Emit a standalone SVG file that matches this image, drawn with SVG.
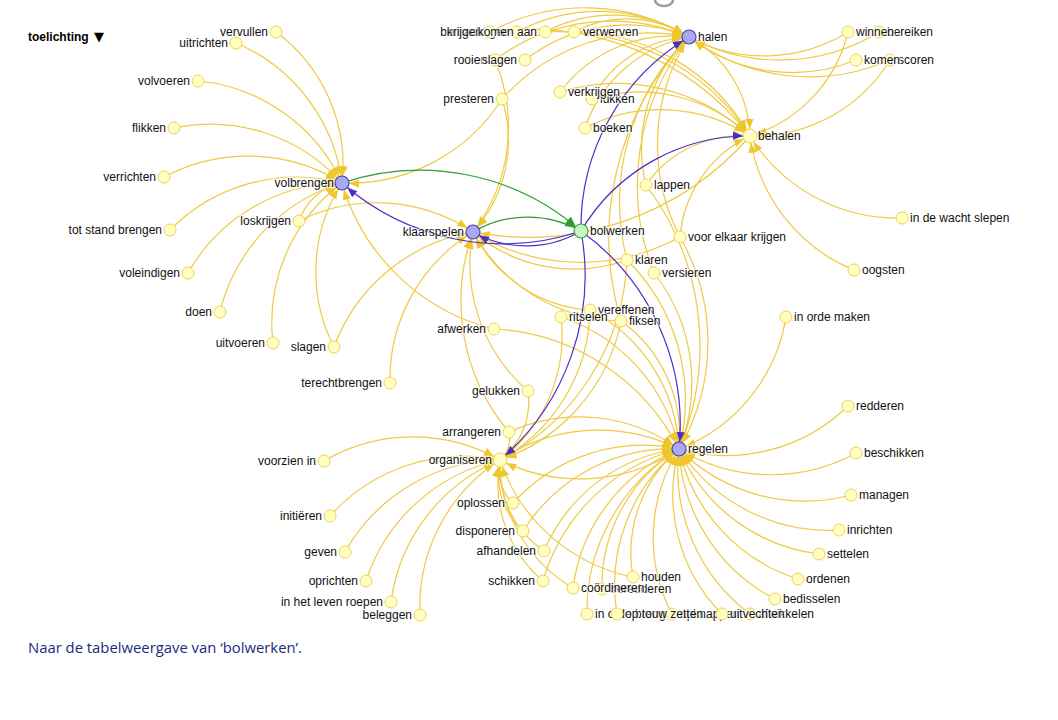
<svg xmlns="http://www.w3.org/2000/svg" width="1058" height="720" viewBox="0 0 1058 720">
<style>
.e{fill:none;stroke:#efca42;stroke-width:1.2}
.b{fill:none;stroke:#4b2dc9;stroke-width:1.2}
.g{fill:none;stroke:#2e9e2e;stroke-width:1.2}
.lf{fill:#ffffc2;stroke:#f0d250;stroke-width:1}
.hb{fill:#a8a8f6;stroke:#4646a8;stroke-width:1.2}
.gn{fill:#c6f5c6;stroke:#3ba03b;stroke-width:1.2}
.l{font-family:"Liberation Sans",Arial,sans-serif;font-size:12px;fill:#111;stroke:#fff;stroke-width:2.5;stroke-opacity:.65;paint-order:stroke}
.r{text-anchor:end}
</style>
<defs>
<marker id="ay" viewBox="0 -5 10 10" refX="17" refY="0" markerWidth="10" markerHeight="10" markerUnits="userSpaceOnUse" orient="auto"><path d="M0,-4L10,0L0,4Z" fill="#efc630"/></marker>
<marker id="ab" viewBox="0 -5 10 10" refX="17" refY="0" markerWidth="10" markerHeight="10" markerUnits="userSpaceOnUse" orient="auto"><path d="M0,-4L10,0L0,4Z" fill="#4b2dc9"/></marker>
<marker id="ag" viewBox="0 -5 10 10" refX="17" refY="0" markerWidth="10" markerHeight="10" markerUnits="userSpaceOnUse" orient="auto"><path d="M0,-4L10,0L0,4Z" fill="#2e9e2e"/></marker>
</defs>
<rect width="1058" height="720" fill="#fff"/>
<path d="M655,0 A9,6 0 0,0 673,0" fill="none" stroke="#9a9a9a" stroke-width="2.5"/>
<text x="28" y="41" font-family="Liberation Sans,Arial,sans-serif" font-size="12" font-weight="bold" fill="#000">toelichting</text>
<text x="94" y="41" font-family="DejaVu Sans,sans-serif" font-size="13" fill="#000">▼</text>
<g id="connectors">
<g class="e" marker-end="url(#ay)">
<path d="M276,32A165,165 0 0,1 342,183"/>
<path d="M236,43A176,176 0 0,1 342,183"/>
<path d="M198,81A176,176 0 0,1 342,183"/>
<path d="M174,128A177,177 0 0,1 342,183"/>
<path d="M164,177A178,178 0 0,1 342,183"/>
<path d="M170,230A178,178 0 0,1 342,183"/>
<path d="M188,273A178,178 0 0,1 342,183"/>
<path d="M220,312A178,178 0 0,1 342,183"/>
<path d="M273,343A174,174 0 0,1 342,183"/>
<path d="M334,347A164,164 0 0,1 342,183"/>
<path d="M299,221A57,57 0 0,1 342,183"/>
<path d="M494,329A211,211 0 0,1 342,183"/>
<path d="M502,99A181,181 0 0,1 342,183"/>
<path d="M299,221A174,174 0 0,1 473,232"/>
<path d="M334,347A180,180 0 0,1 473,232"/>
<path d="M390,383A172,172 0 0,1 473,232"/>
<path d="M528,391A168,168 0 0,1 473,232"/>
<path d="M495,60A173,173 0 0,1 473,232"/>
<path d="M502,99A136,136 0 0,1 473,232"/>
<path d="M627,260A157,157 0 0,1 473,232"/>
<path d="M680,237A207,207 0 0,1 473,232"/>
<path d="M621,321A173,173 0 0,1 473,232"/>
<path d="M590,310A141,141 0 0,1 473,232"/>
<path d="M509,432A203,203 0 0,1 473,232"/>
<path d="M750,136A293,293 0 0,1 473,232"/>
<path d="M517,32A172,172 0 0,1 689,37"/>
<path d="M490,32A199,199 0 0,1 689,37"/>
<path d="M545,32A144,144 0 0,1 689,37"/>
<path d="M574,32A115,115 0 0,1 689,37"/>
<path d="M525,60A166,166 0 0,1 689,37"/>
<path d="M495,60A195,195 0 0,1 689,37"/>
<path d="M560,92A140,140 0 0,1 689,37"/>
<path d="M592,99A115,115 0 0,1 689,37"/>
<path d="M585,128A138,138 0 0,1 689,37"/>
<path d="M646,185A154,154 0 0,1 689,37"/>
<path d="M627,260A231,231 0 0,1 689,37"/>
<path d="M654,273A239,239 0 0,1 689,37"/>
<path d="M680,237A200,200 0 0,1 689,37"/>
<path d="M621,321A292,292 0 0,1 689,37"/>
<path d="M848,32A159,159 0 0,1 689,37"/>
<path d="M879,32A190,190 0 0,1 689,37"/>
<path d="M856,60A168,168 0 0,1 689,37"/>
<path d="M890,60A202,202 0 0,1 689,37"/>
<path d="M502,99A197,197 0 0,1 689,37"/>
<path d="M689,37A116,116 0 0,1 750,136"/>
<path d="M490,32A280,280 0 0,1 750,136"/>
<path d="M545,32A230,230 0 0,1 750,136"/>
<path d="M574,32A204,204 0 0,1 750,136"/>
<path d="M560,92A195,195 0 0,1 750,136"/>
<path d="M585,128A165,165 0 0,1 750,136"/>
<path d="M646,185A115,115 0 0,1 750,136"/>
<path d="M848,32A143,143 0 0,1 750,136"/>
<path d="M890,60A159,159 0 0,1 750,136"/>
<path d="M902,218A173,173 0 0,1 750,136"/>
<path d="M854,270A170,170 0 0,1 750,136"/>
<path d="M680,237A123,123 0 0,1 750,136"/>
<path d="M592,99A162,162 0 0,1 750,136"/>
<path d="M786,317A170,170 0 0,1 679,449"/>
<path d="M848,406A174,174 0 0,1 679,449"/>
<path d="M856,453A177,177 0 0,1 679,449"/>
<path d="M851,495A178,178 0 0,1 679,449"/>
<path d="M839,530A179,179 0 0,1 679,449"/>
<path d="M819,554A175,175 0 0,1 679,449"/>
<path d="M798,579A176,176 0 0,1 679,449"/>
<path d="M775,599A178,178 0 0,1 679,449"/>
<path d="M750,614A180,180 0 0,1 679,449"/>
<path d="M722,614A170,170 0 0,1 679,449"/>
<path d="M672,614A165,165 0 0,1 679,449"/>
<path d="M617,614A176,176 0 0,1 679,449"/>
<path d="M587,614A189,189 0 0,1 679,449"/>
<path d="M633,577A136,136 0 0,1 679,449"/>
<path d="M602,589A160,160 0 0,1 679,449"/>
<path d="M573,588A175,175 0 0,1 679,449"/>
<path d="M543,581A190,190 0 0,1 679,449"/>
<path d="M544,551A169,169 0 0,1 679,449"/>
<path d="M523,531A176,176 0 0,1 679,449"/>
<path d="M513,503A175,175 0 0,1 679,449"/>
<path d="M509,432A171,171 0 0,1 679,449"/>
<path d="M494,329A220,220 0 0,1 679,449"/>
<path d="M561,317A177,177 0 0,1 679,449"/>
<path d="M590,310A165,165 0 0,1 679,449"/>
<path d="M621,321A141,141 0 0,1 679,449"/>
<path d="M627,260A196,196 0 0,1 679,449"/>
<path d="M654,273A178,178 0 0,1 679,449"/>
<path d="M680,237A212,212 0 0,1 679,449"/>
<path d="M646,185A266,266 0 0,1 679,449"/>
<path d="M500,460A179,179 0 0,1 679,449"/>
<path d="M324,461A176,176 0 0,1 500,460"/>
<path d="M330,516A179,179 0 0,1 500,460"/>
<path d="M345,552A180,180 0 0,1 500,460"/>
<path d="M366,581A181,181 0 0,1 500,460"/>
<path d="M391,602A179,179 0 0,1 500,460"/>
<path d="M420,615A174,174 0 0,1 500,460"/>
<path d="M509,432A29,29 0 0,1 500,460"/>
<path d="M513,503A45,45 0 0,1 500,460"/>
<path d="M523,531A75,75 0 0,1 500,460"/>
<path d="M544,551A101,101 0 0,1 500,460"/>
<path d="M543,581A128,128 0 0,1 500,460"/>
<path d="M573,588A147,147 0 0,1 500,460"/>
<path d="M633,577A177,177 0 0,1 500,460"/>
<path d="M561,317A155,155 0 0,1 500,460"/>
<path d="M590,310A175,175 0 0,1 500,460"/>
<path d="M621,321A184,184 0 0,1 500,460"/>
<path d="M627,260A237,237 0 0,1 500,460"/>
<path d="M679,449A179,179 0 0,1 500,460"/>
<path d="M528,391A74,74 0 0,1 500,460"/>
</g>
<g class="b" marker-end="url(#ab)">
<path d="M581,231A244,244 0 0,1 342,183"/>
<path d="M581,231A108,108 0 0,1 473,232"/>
<path d="M581,231A222,222 0 0,1 689,37"/>
<path d="M581,231A194,194 0 0,1 750,136"/>
<path d="M581,231A239,239 0 0,1 679,449"/>
<path d="M581,231A243,243 0 0,1 500,460"/>
</g>
<g class="g" marker-end="url(#ag)">
<path d="M342,183A244,244 0 0,1 581,231"/>
<path d="M473,232A108,108 0 0,1 581,231"/>
</g>
</g>
<g id="nodes">
<g id="n-vervullen"><circle class="lf" cx="276" cy="32" r="6"/><text class="l r" x="268" y="36">vervullen</text></g>
<g id="n-uitrichten"><circle class="lf" cx="236" cy="43" r="6"/><text class="l r" x="228" y="47">uitrichten</text></g>
<g id="n-volvoeren"><circle class="lf" cx="198" cy="81" r="6"/><text class="l r" x="190" y="85">volvoeren</text></g>
<g id="n-flikken"><circle class="lf" cx="174" cy="128" r="6"/><text class="l r" x="166" y="132">flikken</text></g>
<g id="n-verrichten"><circle class="lf" cx="164" cy="177" r="6"/><text class="l r" x="156" y="181">verrichten</text></g>
<g id="n-totstandbrengen"><circle class="lf" cx="170" cy="230" r="6"/><text class="l r" x="162" y="234">tot stand brengen</text></g>
<g id="n-voleindigen"><circle class="lf" cx="188" cy="273" r="6"/><text class="l r" x="180" y="277">voleindigen</text></g>
<g id="n-doen"><circle class="lf" cx="220" cy="312" r="6"/><text class="l r" x="212" y="316">doen</text></g>
<g id="n-uitvoeren"><circle class="lf" cx="273" cy="343" r="6"/><text class="l r" x="265" y="347">uitvoeren</text></g>
<g id="n-slagen"><circle class="lf" cx="334" cy="347" r="6"/><text class="l r" x="326" y="351">slagen</text></g>
<g id="n-loskrijgen"><circle class="lf" cx="299" cy="221" r="6"/><text class="l r" x="291" y="225">loskrijgen</text></g>
<g id="n-terechtbrengen"><circle class="lf" cx="390" cy="383" r="6"/><text class="l r" x="382" y="387">terechtbrengen</text></g>
<g id="n-bemachtigen"><circle class="lf" cx="517" cy="32" r="6"/><text class="l r" x="509" y="36">bemachtigen</text></g>
<g id="n-krijgen"><circle class="lf" cx="490" cy="32" r="6"/><text class="l r" x="482" y="36">krijgen</text></g>
<g id="n-komenaan"><circle class="lf" cx="545" cy="32" r="6"/><text class="l r" x="537" y="36">komen aan</text></g>
<g id="n-verwerven"><circle class="lf" cx="574" cy="32" r="6"/><text class="l" x="583" y="36">verwerven</text></g>
<g id="n-rooien"><circle class="lf" cx="495" cy="60" r="6"/><text class="l r" x="487" y="64">rooien</text></g>
<g id="n-slagen2"><circle class="lf" cx="525" cy="60" r="6"/><text class="l r" x="517" y="64">slagen</text></g>
<g id="n-presteren"><circle class="lf" cx="502" cy="99" r="6"/><text class="l r" x="494" y="103">presteren</text></g>
<g id="n-lukken"><circle class="lf" cx="592" cy="99" r="6"/><text class="l" x="600" y="103">lukken</text></g>
<g id="n-verkrijgen"><circle class="lf" cx="560" cy="92" r="6"/><text class="l" x="568" y="96">verkrijgen</text></g>
<g id="n-boeken"><circle class="lf" cx="585" cy="128" r="6"/><text class="l" x="593" y="132">boeken</text></g>
<g id="n-lappen"><circle class="lf" cx="646" cy="185" r="6"/><text class="l" x="654" y="189">lappen</text></g>
<g id="n-voorelkaarkrijgen"><circle class="lf" cx="680" cy="237" r="6"/><text class="l" x="688" y="241">voor elkaar krijgen</text></g>
<g id="n-klaren"><circle class="lf" cx="627" cy="260" r="6"/><text class="l" x="635" y="264">klaren</text></g>
<g id="n-versieren"><circle class="lf" cx="654" cy="273" r="6"/><text class="l" x="662" y="277">versieren</text></g>
<g id="n-fiksen"><circle class="lf" cx="621" cy="321" r="6"/><text class="l" x="629" y="325">fiksen</text></g>
<g id="n-vereffenen"><circle class="lf" cx="590" cy="310" r="6"/><text class="l" x="598" y="314">vereffenen</text></g>
<g id="n-ritselen"><circle class="lf" cx="561" cy="317" r="6"/><text class="l" x="569" y="321">ritselen</text></g>
<g id="n-afwerken"><circle class="lf" cx="494" cy="329" r="6"/><text class="l r" x="486" y="333">afwerken</text></g>
<g id="n-gelukken"><circle class="lf" cx="528" cy="391" r="6"/><text class="l r" x="520" y="395">gelukken</text></g>
<g id="n-arrangeren"><circle class="lf" cx="509" cy="432" r="6"/><text class="l r" x="501" y="436">arrangeren</text></g>
<g id="n-bereiken"><circle class="lf" cx="879" cy="32" r="6"/><text class="l" x="887" y="36">bereiken</text></g>
<g id="n-winnen"><circle class="lf" cx="848" cy="32" r="6"/><text class="l" x="856" y="36">winnen</text></g>
<g id="n-scoren"><circle class="lf" cx="890" cy="60" r="6"/><text class="l" x="898" y="64">scoren</text></g>
<g id="n-komen"><circle class="lf" cx="856" cy="60" r="6"/><text class="l" x="864" y="64">komen</text></g>
<g id="n-indewachtslepen"><circle class="lf" cx="902" cy="218" r="6"/><text class="l" x="910" y="222">in de wacht slepen</text></g>
<g id="n-oogsten"><circle class="lf" cx="854" cy="270" r="6"/><text class="l" x="862" y="274">oogsten</text></g>
<g id="n-inordemaken"><circle class="lf" cx="786" cy="317" r="6"/><text class="l" x="794" y="321">in orde maken</text></g>
<g id="n-redderen"><circle class="lf" cx="848" cy="406" r="6"/><text class="l" x="856" y="410">redderen</text></g>
<g id="n-beschikken"><circle class="lf" cx="856" cy="453" r="6"/><text class="l" x="864" y="457">beschikken</text></g>
<g id="n-managen"><circle class="lf" cx="851" cy="495" r="6"/><text class="l" x="859" y="499">managen</text></g>
<g id="n-inrichten"><circle class="lf" cx="839" cy="530" r="6"/><text class="l" x="847" y="534">inrichten</text></g>
<g id="n-settelen"><circle class="lf" cx="819" cy="554" r="6"/><text class="l" x="827" y="558">settelen</text></g>
<g id="n-ordenen"><circle class="lf" cx="798" cy="579" r="6"/><text class="l" x="806" y="583">ordenen</text></g>
<g id="n-bedisselen"><circle class="lf" cx="775" cy="599" r="6"/><text class="l" x="783" y="603">bedisselen</text></g>
<g id="n-houden"><circle class="lf" cx="633" cy="577" r="6"/><text class="l" x="641" y="581">houden</text></g>
<g id="n-beredderen"><circle class="lf" cx="602" cy="589" r="6"/><text class="l" x="610" y="593">beredderen</text></g>
<g id="n-coordineren"><circle class="lf" cx="573" cy="588" r="6"/><text class="l" x="581" y="592">coördineren</text></g>
<g id="n-inordebrengen"><circle class="lf" cx="587" cy="614" r="6"/><text class="l" x="595" y="618">in orde brengen</text></g>
<g id="n-opknappen"><circle class="lf" cx="672" cy="614" r="6"/><text class="l" x="680" y="618">opknappen</text></g>
<g id="n-optouwzetten"><circle class="lf" cx="617" cy="614" r="6"/><text class="l" x="625" y="618">op touw zetten</text></g>
<g id="n-afwikkelen"><circle class="lf" cx="750" cy="614" r="6"/><text class="l" x="758" y="618">afwikkelen</text></g>
<g id="n-uitvechten"><circle class="lf" cx="722" cy="614" r="6"/><text class="l" x="730" y="618">uitvechten</text></g>
<g id="n-voorzienin"><circle class="lf" cx="324" cy="461" r="6"/><text class="l r" x="316" y="465">voorzien in</text></g>
<g id="n-initieren"><circle class="lf" cx="330" cy="516" r="6"/><text class="l r" x="322" y="520">initiëren</text></g>
<g id="n-geven"><circle class="lf" cx="345" cy="552" r="6"/><text class="l r" x="337" y="556">geven</text></g>
<g id="n-oprichten"><circle class="lf" cx="366" cy="581" r="6"/><text class="l r" x="358" y="585">oprichten</text></g>
<g id="n-inhetlevenroepen"><circle class="lf" cx="391" cy="602" r="6"/><text class="l r" x="383" y="606">in het leven roepen</text></g>
<g id="n-beleggen"><circle class="lf" cx="420" cy="615" r="6"/><text class="l r" x="412" y="619">beleggen</text></g>
<g id="n-oplossen"><circle class="lf" cx="513" cy="503" r="6"/><text class="l r" x="505" y="507">oplossen</text></g>
<g id="n-disponeren"><circle class="lf" cx="523" cy="531" r="6"/><text class="l r" x="515" y="535">disponeren</text></g>
<g id="n-afhandelen"><circle class="lf" cx="544" cy="551" r="6"/><text class="l r" x="536" y="555">afhandelen</text></g>
<g id="n-schikken"><circle class="lf" cx="543" cy="581" r="6"/><text class="l r" x="535" y="585">schikken</text></g>
<g id="n-behalen"><circle class="lf" cx="750" cy="136" r="7"/><text class="l" x="758" y="140">behalen</text></g>
<g id="n-organiseren"><circle class="lf" cx="500" cy="460" r="7"/><text class="l r" x="492" y="464">organiseren</text></g>
<g id="n-volbrengen"><circle class="hb" cx="342" cy="183" r="7"/><text class="l r" x="334" y="187">volbrengen</text></g>
<g id="n-klaarspelen"><circle class="hb" cx="473" cy="232" r="7"/><text class="l r" x="464" y="236">klaarspelen</text></g>
<g id="n-halen"><circle class="hb" cx="689" cy="37" r="7"/><text class="l" x="698" y="41">halen</text></g>
<g id="n-regelen"><circle class="hb" cx="679" cy="449" r="7"/><text class="l" x="688" y="453">regelen</text></g>
<g id="n-bolwerken"><circle class="gn" cx="581" cy="231" r="7"/><text class="l" x="590" y="235">bolwerken</text></g>
</g>
<text x="28" y="653" font-family="Open Sans,Liberation Sans,sans-serif" font-size="14" fill="#1b2a80" textLength="274" lengthAdjust="spacingAndGlyphs">Naar de tabelweergave van ‘bolwerken’.</text>
</svg>
